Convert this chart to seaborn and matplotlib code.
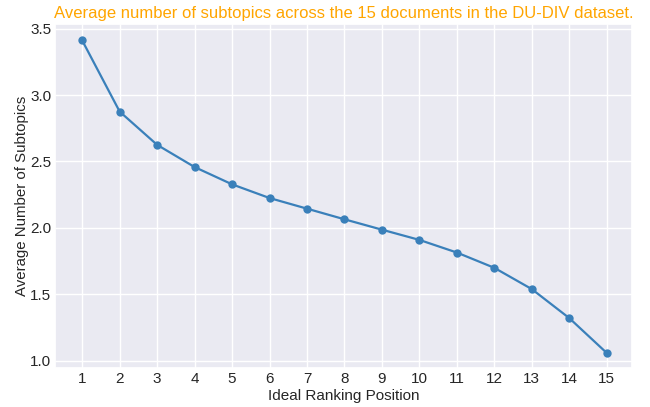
import matplotlib
matplotlib.use('Agg')
import matplotlib.pyplot as plt
import seaborn as sns
import pandas as pd

positions = list(range(1, 16))
avg_subtopics = [3.41, 2.875, 2.625, 2.458, 2.328, 2.225, 2.145, 2.065,
                 1.987, 1.91, 1.815, 1.70, 1.54, 1.322, 1.06]

sns.set_theme(style='darkgrid')
plt.rcParams['font.family'] = ['Liberation Sans', 'DejaVu Sans']

df = pd.DataFrame({'position': positions, 'avg': avg_subtopics})

fig, ax = plt.subplots(figsize=(6.5, 4.07), dpi=100)
fig.subplots_adjust(left=0.085, right=0.972, top=0.941, bottom=0.096)
sns.lineplot(data=df, x='position', y='avg', marker='o', color='#3a80ba',
             linewidth=1.6, markersize=6, markeredgewidth=0, ax=ax)

ax.set_xticks(positions)
ax.set_xlim(0.28, 15.67)
ax.set_yticks([1.0, 1.5, 2.0, 2.5, 3.0, 3.5])
ax.set_ylim(0.947, 3.534)
ax.tick_params(labelsize=11, length=0, pad=3)
ax.set_xlabel('Ideal Ranking Position', fontsize=11, labelpad=2)
ax.set_ylabel('Average Number of Subtopics', fontsize=10.8, labelpad=1)
ax.set_title('Average number of subtopics across the 15 documents in the DU-DIV dataset.',
             color='orange', fontsize=12, pad=4)

plt.savefig('out.png', dpi=100)
plt.close()
